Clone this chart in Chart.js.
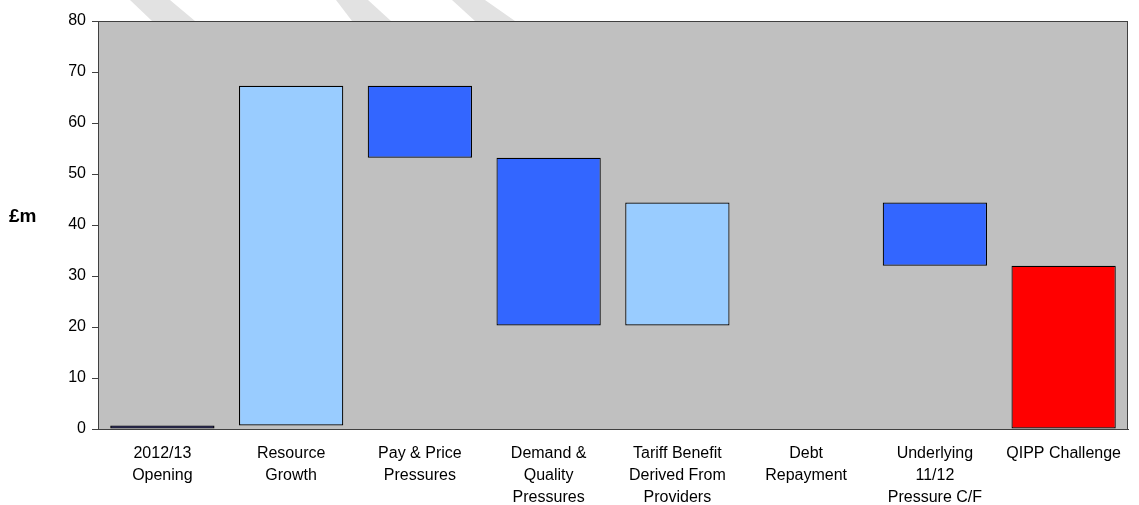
<!DOCTYPE html>
<html>
<head>
<meta charset="utf-8">
<script src="https://cdn.jsdelivr.net/npm/chart.js@4/dist/chart.umd.min.js"></script>
<style>
  html, body { margin: 0; padding: 0; background: #fff; }
  #wrap { width: 1139px; height: 505px; }
</style>
</head>
<body>
<div id="wrap"><canvas id="myChart" width="1139" height="505"></canvas></div>
<script>
// categories and floating bar ranges (£m)
var categories = [
  ['2012/13', 'Opening'],
  ['Resource', 'Growth'],
  ['Pay & Price', 'Pressures'],
  ['Demand &', 'Quality', 'Pressures'],
  ['Tariff Benefit', 'Derived From', 'Providers'],
  ['Debt', 'Repayment'],
  ['Underlying', '11/12', 'Pressure C/F'],
  'QIPP Challenge'
];
var barStart = [0, 0.7, 53.2, 20.3, 20.3, null, 32.0, 0];
var barEnd   = [0.7, 67.3, 67.3, 53.2, 44.4, null, 44.4, 32.0];
var barColours = ['#000080', '#99CCFF', '#3366FF', '#3366FF', '#99CCFF', '#3366FF', '#3366FF', '#FF0000'];
var yTicks = [0, 10, 20, 30, 40, 50, 60, 70, 80];

var ranges = barStart.map(function(s, i) {
  return s === null ? null : [s, barEnd[i]];
});

// grey plot area, frame, watermark stripes and the horizontal "£m" label
var decor = {
  id: 'decor',
  beforeDraw: function(chart) {
    var c = chart.ctx, a = chart.chartArea;
    c.save();
    c.fillStyle = '#C0C0C0';
    c.fillRect(a.left, a.top, a.right - a.left, a.bottom - a.top);
    // faint hatched stripes above the plot
    var stripes = [[130, 170, 152, 195], [336, 368, 352, 391], [452, 485, 475, 515]];
    stripes.forEach(function(s) {
      c.fillStyle = '#E2E2E2';
      c.beginPath();
      c.moveTo(s[0], 0); c.lineTo(s[1], 0);
      c.lineTo(s[3], a.top); c.lineTo(s[2], a.top);
      c.closePath(); c.fill();
    });
    c.restore();
  },
  afterDraw: function(chart) {
    var c = chart.ctx, a = chart.chartArea;
    c.save();
    c.strokeStyle = '#404040';
    c.lineWidth = 1;
    c.strokeRect(a.left + 0.5, a.top + 0.5, a.right - a.left - 1, a.bottom - a.top);
    c.fillStyle = '#000';
    c.font = 'bold 19px "Liberation Sans", Arial, sans-serif';
    c.textBaseline = 'middle';
    c.fillText('£m', 9, (a.top + a.bottom) / 2 - 8);
    c.restore();
  }
};

const ctx = document.getElementById('myChart');

new Chart(ctx, {
  type: 'bar',
  data: {
    labels: categories,
    datasets: [{
      label: '£m',
      data: ranges,
      backgroundColor: barColours,
      borderColor: '#000',
      borderWidth: 1.2,
      borderSkipped: false,
      categoryPercentage: 1,
      barPercentage: 0.81
    }]
  },
  options: {
    responsive: false,
    animation: false,
    layout: { padding: { top: 21, right: 11, left: 0, bottom: 0 } },
    plugins: {
      legend: { display: false },
      tooltip: { enabled: false }
    },
    scales: {
      x: {
        afterFit: function(scale) { scale.height = 76; },
        grid: { display: false, drawTicks: false },
        border: { color: '#404040' },
        ticks: {
          color: '#000',
          padding: 13,
          maxRotation: 0,
          autoSkip: false,
          font: { family: '"Liberation Sans", Arial, sans-serif', size: 16, lineHeight: 1.4 }
        }
      },
      y: {
        min: 0,
        max: 80,
        afterFit: function(scale) { scale.width = 98; },
        afterBuildTicks: function(scale) {
          scale.ticks = yTicks.map(function(v) { return { value: v }; });
        },
        grid: { drawOnChartArea: false, color: '#404040', tickLength: 6 },
        border: { color: '#404040' },
        ticks: {
          color: '#000',
          padding: 6,
          font: { family: '"Liberation Sans", Arial, sans-serif', size: 16 }
        }
      }
    }
  },
  plugins: [decor]
});
</script>
</body>
</html>
